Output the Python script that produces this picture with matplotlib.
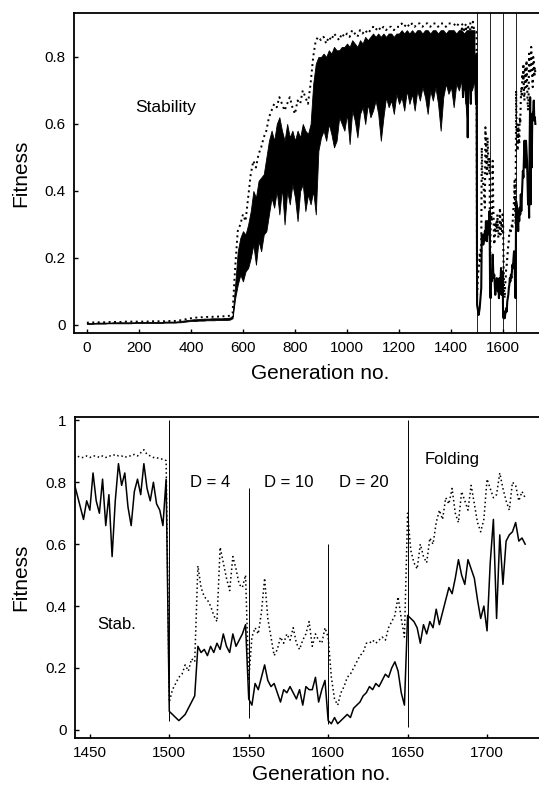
import matplotlib
matplotlib.use("Agg")
import matplotlib.pyplot as plt
import numpy as np

plt.rcParams['font.family'] = ['Liberation Sans', 'DejaVu Sans']

# ---- top panel: coarse readout, one value every 10 generations (0..1490)
gen_top = np.arange(0, 1500, 10)

best_top = [
    .007, .007, .007, .008, .008, .008, .008, .008, .008, .009,
    .009, .009, .009, .009, .010, .010, .010, .010, .010, .010,
    .010, .010, .010, .010, .011, .011, .011, .011, .011, .011,
    .011, .011, .012, .012, .012, .013, .014, .015, .017, .019,
    .020, .021, .022, .022, .023, .023, .024, .024, .024, .025,
    .025, .025, .026, .026, .026, .028, .035, .17, .28, .30,
    .33, .31, .38, .45, .49, .47, .51, .53, .56, .58,
    .62, .64, .66, .65, .68, .66, .64, .66, .68, .65,
    .63, .67, .66, .70, .68, .66, .72, .80, .85, .86,
    .85, .86, .84, .86, .85, .87, .86, .85, .87, .86,
    .87, .86, .88, .87, .86, .88, .87, .88, .87, .88,
    .89, .88, .89, .88, .89, .88, .89, .89, .88, .89,
    .89, .90, .89, .90, .89, .90, .89, .90, .90, .89,
    .90, .90, .89, .90, .90, .89, .90, .90, .89, .90,
    .90, .90, .89, .90, .90, .89, .90, .90, .90, .90,
]

hi_top = [
    .006, .006, .006, .006, .007, .007, .007, .007, .007, .007,
    .008, .008, .008, .008, .008, .008, .008, .008, .008, .009,
    .009, .009, .009, .009, .009, .009, .009, .009, .009, .009,
    .010, .010, .010, .010, .010, .011, .012, .013, .014, .015,
    .016, .017, .017, .018, .018, .019, .019, .019, .020, .020,
    .020, .020, .020, .021, .021, .022, .028, .12, .22, .26,
    .28, .27, .30, .34, .40, .38, .43, .44, .45, .50,
    .55, .58, .55, .60, .62, .58, .55, .60, .56, .58,
    .55, .58, .56, .60, .58, .57, .60, .72, .78, .80,
    .80, .81, .80, .82, .81, .83, .82, .82, .83, .83,
    .84, .83, .85, .84, .83, .85, .84, .86, .85, .86,
    .87, .86, .87, .86, .87, .86, .87, .87, .86, .87,
    .87, .88, .87, .88, .87, .88, .87, .88, .88, .87,
    .88, .88, .87, .88, .88, .87, .88, .88, .87, .88,
    .88, .88, .87, .88, .88, .87, .88, .88, .88, .88,
]

lo_top = [
    .003, .003, .003, .004, .004, .004, .004, .004, .005, .005,
    .005, .005, .005, .005, .005, .005, .005, .005, .006, .006,
    .006, .006, .006, .006, .006, .006, .006, .006, .006, .006,
    .007, .007, .007, .007, .007, .008, .008, .009, .010, .011,
    .012, .012, .012, .013, .013, .013, .014, .014, .014, .014,
    .015, .015, .015, .015, .015, .016, .020, .08, .12, .15,
    .13, .16, .17, .20, .24, .18, .25, .22, .27, .28,
    .33, .38, .35, .40, .33, .41, .30, .40, .36, .42,
    .38, .31, .40, .42, .34, .39, .36, .40, .33, .52,
    .56, .58, .55, .60, .57, .53, .55, .62, .60, .58,
    .63, .54, .64, .61, .56, .63, .65, .60, .66, .62,
    .64, .67, .63, .55, .62, .68, .65, .67, .63, .69,
    .66, .68, .64, .70, .66, .69, .64, .70, .67, .71,
    .68, .63, .70, .67, .71, .66, .58, .68, .72, .69,
    .71, .65, .72, .70, .73, .71, .62, .72, .70, .73,
]

# ---- bottom panel: finer readout, one value every 2 generations (1440..1724)
gen_fine = np.arange(1440, 1726, 2)

mean_fine = [
    # stability phase 1440-1498
    0.80, 0.76, 0.72, 0.68, 0.74, 0.71, 0.83, 0.74, 0.70, 0.81,
    0.66, 0.76, 0.56, 0.74, 0.86, 0.79, 0.83, 0.72, 0.66, 0.77,
    0.81, 0.76, 0.86, 0.78, 0.74, 0.80, 0.73, 0.71, 0.66, 0.81,
    # D = 4, 1500-1548
    0.06, 0.05, 0.04, 0.03, 0.04, 0.05, 0.07, 0.09, 0.11, 0.27,
    0.25, 0.26, 0.24, 0.27, 0.25, 0.28, 0.26, 0.31, 0.27, 0.25,
    0.31, 0.27, 0.29, 0.31, 0.34,
    # D = 10, 1550-1598
    0.10, 0.08, 0.15, 0.13, 0.17, 0.21, 0.16, 0.14, 0.15, 0.12,
    0.09, 0.13, 0.12, 0.14, 0.12, 0.10, 0.13, 0.08, 0.14, 0.13,
    0.13, 0.17, 0.09, 0.13, 0.16,
    # D = 20, 1600-1648
    0.03, 0.02, 0.04, 0.02, 0.03, 0.04, 0.05, 0.04, 0.07, 0.08,
    0.09, 0.11, 0.12, 0.14, 0.13, 0.15, 0.14, 0.16, 0.18, 0.17,
    0.20, 0.22, 0.19, 0.12, 0.08,
    # folding, 1650-1724
    0.37, 0.36, 0.35, 0.33, 0.28, 0.34, 0.31, 0.35, 0.33, 0.39,
    0.34, 0.38, 0.42, 0.46, 0.44, 0.49, 0.55, 0.50, 0.47, 0.55,
    0.52, 0.49, 0.42, 0.36, 0.40, 0.32, 0.54, 0.68, 0.36, 0.63,
    0.47, 0.61, 0.63, 0.64, 0.67, 0.61, 0.62, 0.60,
]

best_fine = [
    # stability phase 1440-1498
    0.880, 0.885, 0.880, 0.880, 0.885, 0.880, 0.885, 0.885, 0.880, 0.885,
    0.880, 0.885, 0.885, 0.890, 0.885, 0.885, 0.880, 0.885, 0.885, 0.890,
    0.885, 0.895, 0.905, 0.890, 0.885, 0.880, 0.880, 0.875, 0.875, 0.870,
    # D = 4
    0.09, 0.13, 0.15, 0.17, 0.18, 0.21, 0.19, 0.23, 0.22, 0.53,
    0.46, 0.43, 0.42, 0.40, 0.37, 0.35, 0.59, 0.54, 0.49, 0.45,
    0.56, 0.52, 0.47, 0.46, 0.50,
    # D = 10
    0.16, 0.30, 0.33, 0.31, 0.38, 0.49, 0.36, 0.30, 0.24, 0.26,
    0.30, 0.28, 0.31, 0.29, 0.33, 0.28, 0.26, 0.29, 0.31, 0.35,
    0.27, 0.31, 0.29, 0.28, 0.33,
    # D = 20
    0.30, 0.17, 0.10, 0.08, 0.12, 0.14, 0.17, 0.18, 0.20, 0.22,
    0.24, 0.25, 0.28, 0.28, 0.29, 0.28, 0.29, 0.30, 0.29, 0.33,
    0.35, 0.37, 0.43, 0.36, 0.30,
    # folding
    0.70, 0.58, 0.54, 0.52, 0.60, 0.56, 0.54, 0.62, 0.60, 0.67,
    0.71, 0.68, 0.75, 0.73, 0.78, 0.70, 0.67, 0.77, 0.74, 0.71,
    0.79, 0.73, 0.67, 0.64, 0.68, 0.81, 0.78, 0.75, 0.76, 0.83,
    0.78, 0.74, 0.71, 0.80, 0.79, 0.74, 0.77, 0.75,
]

# fitness-function switches and the vertical jumps drawn at them
switch_gens = [1500, 1550, 1600, 1650]
switch_tops = [1.0, 0.78, 0.60, 1.0]
switch_bottoms = [0.03, 0.04, 0.02, 0.01]

phase_labels = ['Stab.', 'D = 4', 'D = 10', 'D = 20', 'Folding']
phase_x = [1467, 1525.5, 1575.5, 1622.5, 1678]
phase_y = [0.34, 0.80, 0.80, 0.80, 0.875]

dotted = (0, (1, 1.8))

fig = plt.figure(figsize=(5.39, 7.88), dpi=100)

# ---------------- top panel
ax1 = fig.add_axes([0.137, 0.5774, 0.863, 0.406])
ax1.fill_between(gen_top, lo_top, hi_top, color='k', lw=0.6)
ax1.plot(gen_top, best_top, color='k', ls=dotted, lw=1.4)
ax1.plot(gen_fine, best_fine, color='k', ls=dotted, lw=1.5)
ax1.plot(gen_fine, mean_fine, color='k', lw=1.5)
for g in switch_gens:
    ax1.axvline(g, color='k', lw=0.6)
ax1.text(304, 0.65, 'Stability', fontsize=12.5, ha='center', va='center')
ax1.set_xlim(-50, 1738)
ax1.set_ylim(-0.024, 0.931)
ax1.set_xticks([0, 200, 400, 600, 800, 1000, 1200, 1400, 1600])
ax1.set_yticks([0, 0.2, 0.4, 0.6, 0.8])
ax1.set_yticklabels(['0', '0.2', '0.4', '0.6', '0.8'])
ax1.set_xlabel('Generation no.', fontsize=15)
ax1.set_ylabel('Fitness', fontsize=15)
ax1.xaxis.set_label_coords(0.53, -0.097)
ax1.yaxis.set_label_coords(-0.094, 0.5)

# ---------------- bottom panel
ax2 = fig.add_axes([0.139, 0.0635, 0.861, 0.407])
ax2.plot(gen_fine, best_fine, color='k', ls=dotted, lw=1.1)
ax2.plot(gen_fine, mean_fine, color='k', lw=1.1)
ax2.vlines(switch_gens, switch_bottoms, switch_tops, color='k', lw=0.7)
for lab, x, y in zip(phase_labels, phase_x, phase_y):
    ax2.text(x, y, lab, fontsize=12, ha='center', va='center')
ax2.set_xlim(1440.6, 1732.7)
ax2.set_ylim(-0.026, 1.01)
ax2.set_xticks([1450, 1500, 1550, 1600, 1650, 1700])
ax2.set_yticks([0, 0.2, 0.4, 0.6, 0.8, 1.0])
ax2.set_yticklabels(['0', '0.2', '0.4', '0.6', '0.8', '1'])
ax2.set_xlabel('Generation no.', fontsize=15)
ax2.set_ylabel('Fitness', fontsize=15)
ax2.xaxis.set_label_coords(0.53, -0.085)
ax2.yaxis.set_label_coords(-0.096, 0.5)

for ax in (ax1, ax2):
    ax.spines['right'].set_visible(False)
    for s in ('left', 'top', 'bottom'):
        ax.spines[s].set_linewidth(1.3)
    ax.tick_params(direction='in', length=3, width=1, labelsize=11)
    ax.tick_params(axis='x', pad=6)
    ax.tick_params(axis='y', pad=6)

fig.savefig('out.png', dpi=100)
